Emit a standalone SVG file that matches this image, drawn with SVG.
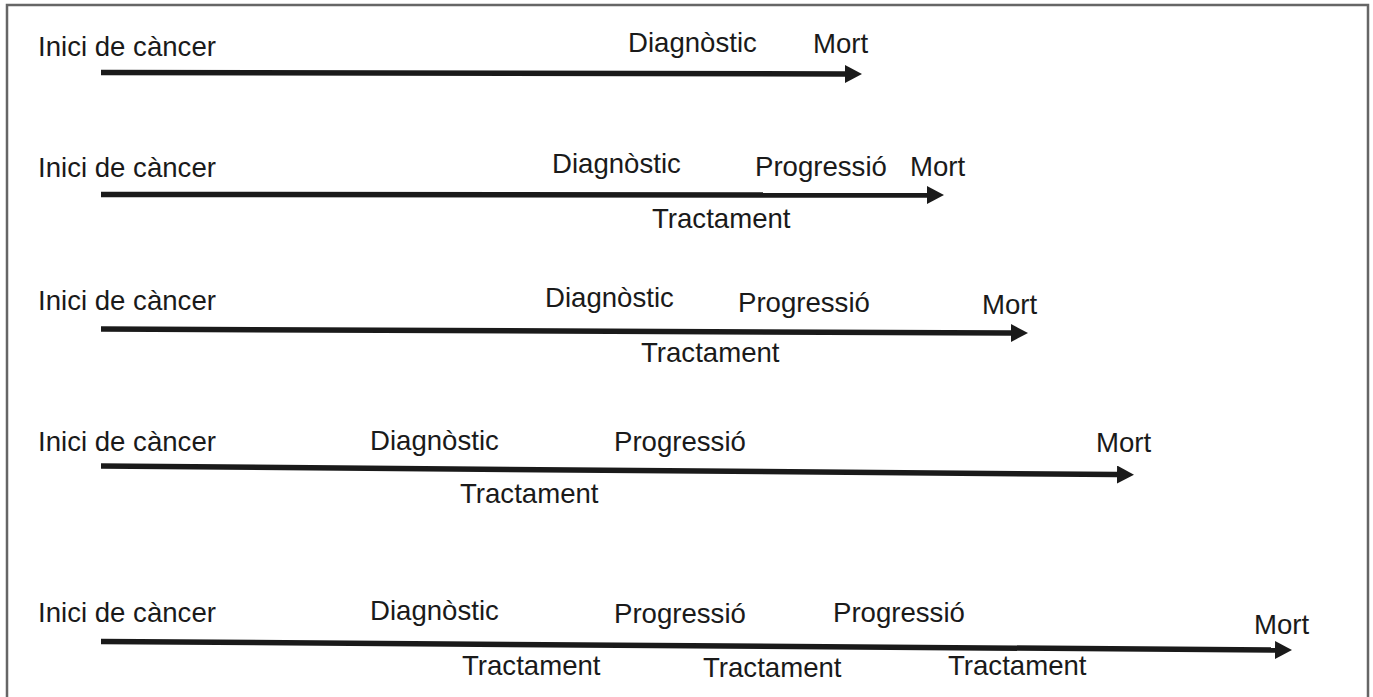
<svg xmlns="http://www.w3.org/2000/svg" width="1373" height="697" viewBox="0 0 1373 697">
<style>
.t{font-family:"Liberation Sans",Arial,sans-serif;font-size:27.6px;fill:#1a1a1a}
.ln{stroke:#1a1a1a;stroke-width:5.5;fill:none}
</style>
<defs>
<marker id="ah" markerUnits="userSpaceOnUse" markerWidth="19" markerHeight="19" refX="0" refY="9" orient="auto">
<path d="M0,0 L17,9 L0,18 Z" fill="#1a1a1a"/>
</marker>
</defs>
<rect width="1373" height="697" fill="#fff"/>
<path d="M7,700 V5 H1368 V700" fill="none" stroke="#666" stroke-width="2.5"/>
<g id="connectors">
<line class="ln" x1="101" y1="72.5" x2="845" y2="74" marker-end="url(#ah)"/>
<line class="ln" x1="101" y1="194.5" x2="927" y2="195" marker-end="url(#ah)"/>
<line class="ln" x1="101" y1="329" x2="1011" y2="333" marker-end="url(#ah)"/>
<line class="ln" x1="101" y1="466" x2="1117" y2="474.5" marker-end="url(#ah)"/>
<line class="ln" x1="101" y1="641.5" x2="1275" y2="650" marker-end="url(#ah)"/>
</g>
<g id="row1">
<text class="t" x="38" y="56">Inici de càncer</text>
<text class="t" x="628" y="52">Diagnòstic</text>
<text class="t" x="813" y="53">Mort</text>
</g>
<g id="row2">
<text class="t" x="38" y="177">Inici de càncer</text>
<text class="t" x="552" y="173">Diagnòstic</text>
<text class="t" x="755" y="176">Progressió</text>
<text class="t" x="910" y="176">Mort</text>
<text class="t" x="652" y="228">Tractament</text>
</g>
<g id="row3">
<text class="t" x="38" y="310">Inici de càncer</text>
<text class="t" x="545" y="307">Diagnòstic</text>
<text class="t" x="738" y="312">Progressió</text>
<text class="t" x="982" y="314">Mort</text>
<text class="t" x="641" y="362">Tractament</text>
</g>
<g id="row4">
<text class="t" x="38" y="451">Inici de càncer</text>
<text class="t" x="370" y="450">Diagnòstic</text>
<text class="t" x="614" y="451">Progressió</text>
<text class="t" x="1096" y="452">Mort</text>
<text class="t" x="460" y="503">Tractament</text>
</g>
<g id="row5">
<text class="t" x="38" y="622">Inici de càncer</text>
<text class="t" x="370" y="620">Diagnòstic</text>
<text class="t" x="614" y="623">Progressió</text>
<text class="t" x="833" y="622">Progressió</text>
<text class="t" x="1254" y="634">Mort</text>
<text class="t" x="462" y="675">Tractament</text>
<text class="t" x="703" y="677">Tractament</text>
<text class="t" x="948" y="675">Tractament</text>
</g>
</svg>
